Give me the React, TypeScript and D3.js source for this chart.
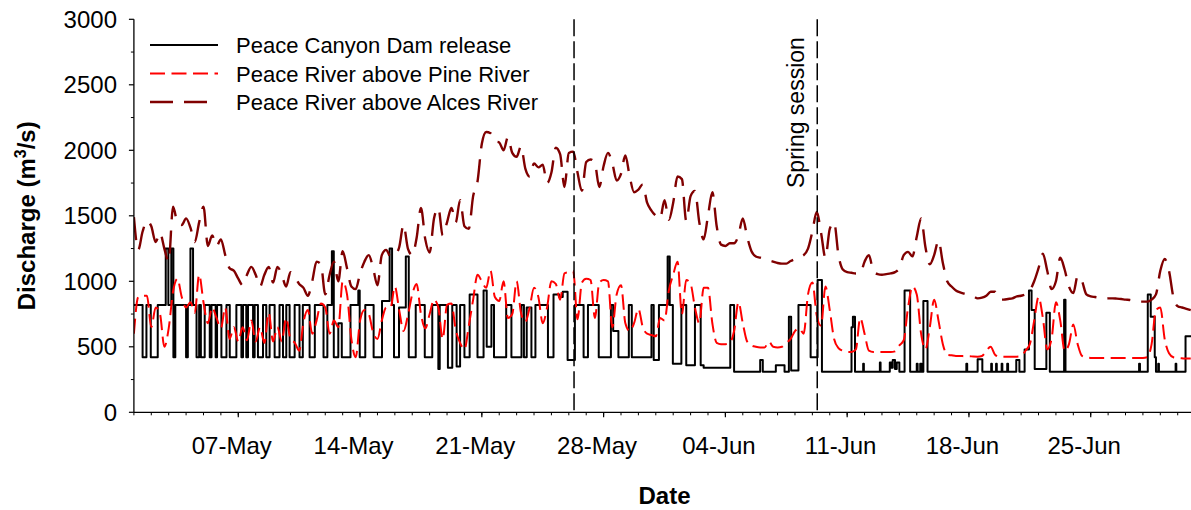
import React from "react";
import * as d3 from "d3";

const DAY = 86400000;
const START = Date.UTC(2013, 4, 1);
const END = Date.UTC(2013, 6, 1);

// Peace River above Alces River, 6-hourly (m3/s), from 01-May 00:00
const alces = [
  1490, 1240, 1380, 1460, 1420, 1300, 1370, 1250, 1150, 1570, 1450, 1430,
  1480, 1410, 1300, 1450, 1570, 1270, 1350, 1270, 1320, 1200, 1100, 1080,
  1020, 970, 1050, 1110, 1050, 960, 1050, 1110, 990, 1110, 1050, 960,
  1070, 1030, 980, 950, 890, 1000, 1150, 1130, 900, 1050, 1150, 1000,
  1230, 1100, 960, 940, 1060, 1150, 1200, 1100, 970, 1200, 1240, 1190,
  1200, 1260, 1430, 1250, 1200, 1330, 1560, 1320, 1220, 1480, 1560, 1350,
  1450, 1560, 1450, 1620, 1420, 1400, 1650, 1760, 2050, 2140, 2130, 2070,
  2060, 2000, 2100, 1980, 1950, 2030, 1860, 1800, 1900, 1870, 1890, 1750,
  1830, 2020, 1970, 1720, 1980, 1990, 1830, 1690, 1910, 1930, 1900, 1720,
  1880, 1980, 1900, 1770, 1820, 1960, 1800, 1680, 1700, 1740, 1600, 1540,
  1500, 1480, 1620, 1470, 1600, 1800, 1780, 1460, 1650, 1690, 1450, 1320,
  1500, 1680, 1420, 1280, 1270, 1290, 1290, 1350, 1480, 1340, 1230, 1190,
  1180, 1170, 1160, 1150, 1140, 1135, 1135, 1155, 1170, 1185, 1200, 1250,
  1380, 1530, 1370, 1180, 1400, 1450, 1200, 1090, 1070, 1065, 1060, 1060,
  1150, 1200, 1080, 1055, 1050, 1055, 1060, 1070, 1100, 1200, 1225, 1190,
  1340, 1480, 1260, 1130, 1200, 1310, 1140, 1000, 960, 930, 915, 905,
  895, 885, 870, 875, 890, 920, 920, 860, 860, 865, 870, 885,
  890, 900, 930, 1000, 1100, 1210, 1080, 940, 1000, 1180, 1090, 960,
  910, 1040, 1000, 900, 885, 880, 875, 872, 870, 870, 868, 865,
  860, 857, 850, 845, 845, 845, 860, 900, 1080, 1170, 1080, 880,
  810, 800, 790, 780,
];

// Peace River above Pine River, 6-hourly (m3/s)
const pine = [
  600, 880, 890, 890, 650, 800, 750, 500, 640, 920, 1020, 880,
  800, 840, 760, 1050, 840, 680, 800, 720, 640, 800, 560, 650,
  540, 650, 550, 700, 540, 650, 530, 760, 540, 650, 540, 720,
  560, 530, 470, 690, 780, 600, 700, 830, 800, 600, 700, 650,
  1000, 900, 560, 420, 700, 780, 750, 610, 560, 700, 800, 800,
  960, 780, 620, 740, 900, 980, 750, 640, 750, 860, 800, 560,
  820, 830, 630, 530, 480, 660, 860, 1050, 1000, 950, 1080, 880,
  850, 1000, 720, 750, 1000, 760, 690, 800, 950, 880, 680, 800,
  1000, 980, 860, 1060, 1070, 1080, 710, 990, 1020, 1010, 720, 990,
  1010, 1000, 650, 900, 970, 680, 620, 680, 790, 650, 600, 590,
  580, 720, 700, 930, 1050, 1150, 750, 1010, 980, 800, 680, 950,
  950, 680, 530, 520, 520, 530, 620, 840, 680, 540, 510, 500,
  495, 495, 540, 500, 495, 500, 530, 560, 620, 640, 600, 900,
  990, 740, 660, 960, 780, 560, 490, 470, 460, 460, 480, 720,
  600, 470, 460, 460, 460, 460, 460, 465, 510, 550, 800, 960,
  900, 600, 480, 650, 860, 700, 520, 440, 435, 430, 430, 428,
  428, 426, 425, 430, 470, 500, 440, 425, 425, 425, 425, 425,
  430, 470, 520, 700, 880, 720, 480, 560, 840, 700, 470, 520,
  670, 520, 430, 420, 415, 415, 415, 415, 415, 415, 415, 415,
  415, 415, 415, 415, 415, 420, 520, 780, 800, 560, 450, 420,
  415, 412, 410, 410,
];

// Peace Canyon Dam release: change times (days after 01-May) and new level (m3/s)
const damDay = [
  0, 0.5, 0.72, 0.97, 1.37, 1.83, 1.98, 2.15, 2.27, 2.38, 3.0, 3.1, 3.25, 3.4, 3.6, 3.75, 3.85,
  4.07, 4.36, 4.46, 4.7, 4.78, 5.03, 5.32, 5.51, 5.89, 6.18, 6.27, 6.46, 6.56, 6.85, 6.94, 7.13,
  7.42, 7.61, 7.8, 8.09, 8.37, 8.57, 8.76, 8.95, 9.24, 9.52, 9.71, 10.1, 10.4, 10.9, 11.12, 11.38,
  11.49, 11.75, 11.95, 12.45, 12.9, 12.98, 13.3, 13.78, 14.26, 14.7, 14.84, 14.95, 15.24, 15.63,
  15.8, 16.2, 16.72, 17.15, 17.5, 17.58, 18.05, 18.3, 18.55, 18.75, 19.0, 19.3, 19.75, 20.1, 20.28,
  20.55, 20.7, 21.4, 21.7, 22.28, 22.42, 22.58, 22.85, 23.08, 23.8, 24.12, 24.45, 24.65, 24.93,
  25.35, 25.85, 26.1, 26.72, 27.42, 27.55, 27.85, 28.45, 28.62, 29.75, 29.88, 30.18, 30.68, 30.8,
  30.98, 31.47, 31.75, 32.25, 32.58, 32.75, 34.28, 34.5, 36.0, 36.15, 36.9, 37.4, 37.65, 37.78,
  38.2, 38.9, 39.3, 39.55, 41.25, 41.33, 41.45, 41.92, 41.96, 42.88, 42.92, 43.45, 43.55, 43.62,
  43.75, 43.85, 44.0, 44.3, 44.62, 45.0, 45.05, 45.2, 45.28, 45.38, 45.62, 47.85, 47.9, 48.5,
  48.77, 49.28, 49.32, 49.56, 49.6, 49.88, 49.92, 50.2, 50.25, 50.72, 50.9, 51.2, 51.45, 51.6,
  51.78, 52.45, 52.65, 53.47, 53.55, 57.78, 57.83, 58.28, 58.45, 58.68, 58.75, 58.88, 58.92,
  59.88, 59.92, 60.45, 61.0,
];
const damLevel = [
  820, 420, 820, 420, 820, 1250, 820, 1250, 420, 820, 420, 820, 1250, 820, 420, 820, 420,
  820, 420, 820, 420, 820, 420, 820, 420, 820, 420, 820, 420, 820, 420, 820, 420,
  820, 420, 820, 420, 820, 420, 820, 420, 820, 420, 820, 420, 820, 420, 820, 1230,
  420, 680, 420, 820, 930, 420, 820, 420, 850, 1250, 820, 420, 800, 1190,
  420, 820, 420, 820, 330, 820, 340, 820, 350, 820, 420, 900, 420, 930, 500,
  820, 420, 820, 420, 820, 420, 800, 420, 820, 420, 900, 880, 920, 400,
  820, 420, 820, 420, 820, 620, 420, 820, 420, 820, 400, 820, 1190, 820,
  370, 820, 360, 820, 360, 340, 820, 310, 400, 310, 360, 310, 730, 320,
  820, 420, 1010, 310, 650, 730, 310, 370, 310, 380, 310, 380, 340, 400,
  330, 380, 310, 930, 310, 370, 310, 370, 310, 850, 310, 370, 310, 405,
  310, 370, 310, 370, 310, 370, 310, 370, 310, 400, 310, 480, 930, 780,
  330, 760, 310, 860, 310, 370, 310, 900, 730, 420, 310, 370, 310,
  370, 310, 580, 580,
];

const markerDays = [25.3, 39.28];
const majorTickDates = ["2013-05-07", "2013-05-14", "2013-05-21", "2013-05-28", "2013-06-04", "2013-06-11", "2013-06-18", "2013-06-25"];
const yTicks = [0, 500, 1000, 1500, 2000, 2500, 3000];
const yMinorTicks = [250, 750, 1250, 1750, 2250, 2750];
const seriesNames = ["Peace Canyon Dam release", "Peace River above Pine River", "Peace River above Alces River"];

const W = 1191;
const H = 510;
const L = 133.9;
const R = 1195.1;
const T = 19.3;
const B = 412.3;
const FONT = "'Liberation Sans', Arial, Helvetica, sans-serif";

export default function App() {
  const x = d3.scaleUtc().domain([new Date(START), new Date(END)]).range([L, R]);
  const y = d3.scaleLinear().domain([0, 3000]).range([B, T]);

  type P = [number, number];
  const line = d3
    .line<P>()
    .x((p) => x(new Date(p[0])))
    .y((p) => y(p[1]));

  const alcesPts: P[] = alces.map((v, i) => [START + (i * DAY) / 4, v]);
  const pinePts: P[] = pine.map((v, i) => [START + (i * DAY) / 4, v]);
  const damPts: P[] = damDay.map((d, i) => [START + d * DAY, damLevel[i]]);

  const alcesPath = line.curve(d3.curveMonotoneX)(alcesPts) || "";
  const pinePath = line.curve(d3.curveMonotoneX)(pinePts) || "";
  const damPath = line.curve(d3.curveStepAfter)(damPts) || "";

  const dayTicks = d3.utcDay.range(new Date(START), new Date(END + 1));
  const fmt = d3.utcFormat("%d-%b");
  const majors = majorTickDates.map((s) => new Date(s + "T00:00:00Z"));

  const styles = [
    { stroke: "#000000", width: 2, dash: "none" },
    { stroke: "#ff0000", width: 2, dash: "15,6.5" },
    { stroke: "#800000", width: 2.4, dash: "23,11" },
  ];
  const legendY = [45, 73.5, 102];

  return (
    <div style={{ position: "fixed", left: 0, top: 0, width: W, height: H, background: "#fff" }}>
      <svg width={W} height={H} style={{ display: "block" }} fontFamily={FONT}>
        <defs>
          <clipPath id="plotclip">
            <rect x={L} y={T - 5} width={W - L} height={B - T + 5} />
          </clipPath>
        </defs>
        <rect x={0} y={0} width={W} height={H} fill="#fff" />

        <g clipPath="url(#plotclip)" fill="none" strokeLinejoin="round">
          <path d={damPath} stroke={styles[0].stroke} strokeWidth={styles[0].width} />
          <path d={pinePath} stroke={styles[1].stroke} strokeWidth={styles[1].width} strokeDasharray={styles[1].dash} />
          <path d={alcesPath} stroke={styles[2].stroke} strokeWidth={styles[2].width} strokeDasharray={styles[2].dash} />
        </g>

        {markerDays.map((d, i) => {
          const xx = x(new Date(START + d * DAY));
          return <line key={i} x1={xx} x2={xx} y1={T} y2={B} stroke="#000" strokeWidth={1.5} strokeDasharray="17,5" />;
        })}
        <text
          transform={`translate(${x(new Date(START + markerDays[1] * DAY)) - 13},188) rotate(-90)`}
          fontSize={23}
          fill="#000"
        >
          Spring session
        </text>

        {/* axes */}
        <line x1={L} x2={W} y1={B} y2={B} stroke="#000" strokeWidth={1.3} />
        <line x1={L} x2={L} y1={T} y2={B} stroke="#000" strokeWidth={1.3} />
        {dayTicks.map((d, i) => (
          <line key={"dt" + i} x1={x(d)} x2={x(d)} y1={B} y2={B + 3} stroke="#000" strokeWidth={1} />
        ))}
        {majors.map((d, i) => (
          <g key={"mj" + i}>
            <line x1={x(d)} x2={x(d)} y1={B} y2={B + 5} stroke="#000" strokeWidth={1.2} />
            <text x={x(d) - 6.5} y={453.5} textAnchor="middle" fontSize={24} fill="#000">
              {fmt(d)}
            </text>
          </g>
        ))}
        {yTicks.map((v) => (
          <g key={"yt" + v}>
            <line x1={L - 5} x2={L} y1={y(v)} y2={y(v)} stroke="#000" strokeWidth={1.2} />
            <text x={117} y={y(v) + 8.5} textAnchor="end" fontSize={24} fill="#000">
              {v}
            </text>
          </g>
        ))}
        {yMinorTicks.map((v) => (
          <line key={"ym" + v} x1={L - 3} x2={L} y1={y(v)} y2={y(v)} stroke="#000" strokeWidth={1} />
        ))}

        <text x={(L + R) / 2} y={504} textAnchor="middle" fontSize={24} fontWeight="bold" fill="#000">
          Date
        </text>
        <text transform={`translate(35,${(T + B) / 2}) rotate(-90)`} textAnchor="middle" fontSize={24} fontWeight="bold" fill="#000">
          Discharge (m<tspan fontSize={16} dy={-9}>3</tspan>
          <tspan dy={9}>/s)</tspan>
        </text>

        {/* legend */}
        {seriesNames.map((n, i) => (
          <g key={"lg" + i}>
            <line
              x1={150}
              x2={218}
              y1={legendY[i]}
              y2={legendY[i]}
              stroke={styles[i].stroke}
              strokeWidth={styles[i].width}
              strokeDasharray={styles[i].dash}
            />
            <text x={236} y={legendY[i] + 8} fontSize={22} fill="#000">
              {n}
            </text>
          </g>
        ))}
      </svg>
    </div>
  );
}
